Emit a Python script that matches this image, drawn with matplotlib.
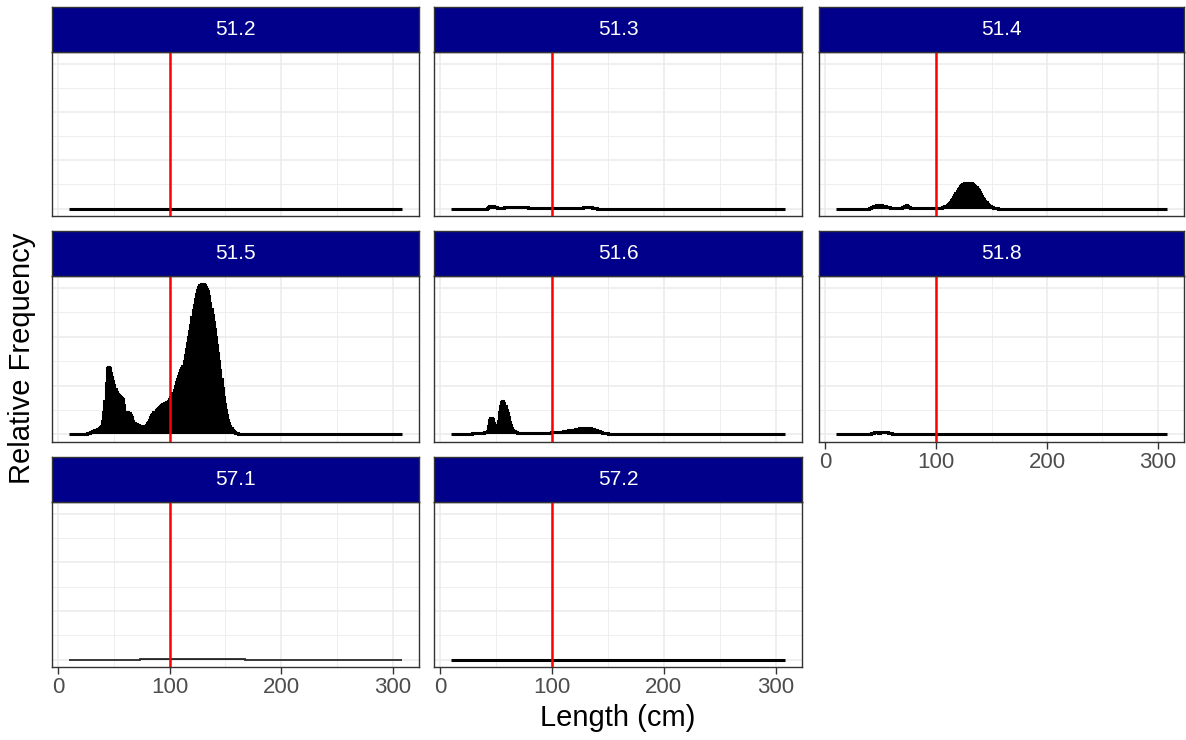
import numpy as np
import matplotlib
matplotlib.use('Agg')
from matplotlib import pyplot as plt

plt.rcParams['font.family'] = ['Liberation Sans', 'DejaVu Sans']

# length bins (cm) and relative frequency by statistical area, in units of 1e-4
lengths = np.arange(10, 309)
areas = ['51.2', '51.3', '51.4', '51.5', '51.6', '51.8', '57.1', '57.2']

freq_512_start = 10
freq_512 = []

freq_513_start = 42
freq_513 = [2, 4, 6, 6, 6, 6, 5, 4, 3, 2, 2, 2, 2, 2, 2, 2,
            3, 3, 3, 4, 4, 3, 3, 3, 3, 3, 3, 3, 4, 4, 3, 3, 3, 3, 3, 3, 3,
            1, 1, 1, 1, 1, 1, 1, 1, 1, 1, 1, 1, 1, 1, 1, 1, 1, 1, 1, 1,
            1, 1, 1, 1, 1, 1, 1, 1, 1, 1, 1, 1, 1, 1, 1, 1, 1, 1, 1, 1,
            1, 1, 1, 1, 1, 1, 1, 1, 1,
            3, 3, 4, 4, 4, 4, 3, 3, 1, 1, 1, 1, 1]

freq_514_start = 40
freq_514 = [1, 2, 3, 4, 5, 6, 7, 8, 8, 8, 8, 7, 6, 6, 5, 4, 4, 3, 3, 2,
            2, 2, 2, 2, 2, 2, 2, 2, 2, 2,
            3, 4, 6, 7, 6, 4, 3,
            2, 2, 2, 2, 2, 2, 2, 2, 2, 2, 2, 2, 2, 2, 2, 2, 2, 2, 2, 2, 2,
            2, 2, 2, 2, 2, 2, 2, 2,
            3, 4, 5, 6, 7, 9, 11, 14, 17, 20, 24, 28, 32, 37, 40, 43, 46, 48,
            50, 51, 52, 53, 53, 53, 53, 53, 52, 51, 49, 47, 44, 41, 38, 35,
            30, 26, 22, 19, 16, 13, 10, 8, 6, 5, 4, 3, 2, 1.5, 1, 0.5]

freq_515_start = 25
freq_515 = [1, 2, 3, 4, 5, 6, 7, 8, 9, 10, 11, 12, 14, 16, 18,
            28, 45, 69, 106, 136, 138, 136, 126, 118, 110, 102, 93, 87, 83,
            81, 79, 77, 75, 73, 61, 47, 45, 45, 43, 43, 39, 35, 28, 24, 22,
            21, 20, 19, 18, 18, 17, 17, 17, 17, 20, 23, 26, 30, 35, 39, 42,
            45, 47, 50, 53, 55, 57, 59, 61, 63, 64, 65, 66, 67, 68, 73, 77,
            81, 85, 91, 99, 108, 114, 120, 126, 132, 136, 140, 150, 162, 175,
            187, 199, 211, 225, 240, 254, 266, 278, 288, 296, 302, 305, 307,
            309, 309, 307, 302, 298, 294, 284, 270, 256, 244, 231, 215, 199,
            183, 166, 150, 132, 114, 95, 77, 63, 51, 39, 30, 24, 18, 14, 10,
            8, 6, 4, 3, 2, 1, 1]

freq_516_start = 25
freq_516 = [1, 1, 1.5, 1.5, 2, 2, 2, 2, 2.5, 2.5, 3, 3, 3.5, 3.5, 4, 5, 6, 8,
            18, 30, 34, 34, 32, 24, 20, 18, 20, 28, 45, 59, 67, 69, 65, 59,
            51, 43, 35, 26, 20, 14, 10, 8, 6, 5, 4,
            3, 3, 3, 3, 3, 3, 3, 3, 3, 3, 3, 3, 3, 3, 3, 3,
            4, 4, 4, 4, 4, 4, 4, 4, 4, 4, 4, 4, 4, 4,
            6, 6, 6, 6, 6, 6, 6, 6, 6, 6,
            7, 7, 8, 8, 8, 9, 9, 9, 9, 10, 10, 11, 11, 12, 12, 13, 13, 13,
            14, 14, 14, 14, 13, 13, 13, 12, 12, 11, 10, 10, 9, 8, 7, 6, 5,
            4, 4, 3, 3, 2, 2, 1.5, 1, 1, 0.5, 0.5]

freq_518_start = 42
freq_518 = [2, 3, 4, 5, 5, 5, 4, 4, 5, 5, 6, 6, 6, 5, 5, 4, 3, 3, 2, 1]

freq_571_start = 74
freq_571 = [2, 2, 2, 2, 2, 2, 2, 2, 2, 2, 2, 2, 2, 2, 2, 2, 2, 2, 2, 2,
            2, 2, 2, 2, 2, 2, 2, 2, 2, 2, 2, 2, 2, 2, 2, 2, 2, 2, 2, 2,
            2, 2, 2, 2, 2, 2, 2, 2, 2, 2, 2, 2, 2, 2, 2, 2, 2, 2, 2, 2,
            2, 2, 2, 2, 2, 2, 2, 2, 2, 2, 2, 2, 2, 2, 2, 2, 2, 2, 2, 2,
            2, 2, 2, 2, 2, 2, 2, 2, 2, 2, 2, 2, 2, 2]

freq_572_start = 10
freq_572 = []

starts = [freq_512_start, freq_513_start, freq_514_start, freq_515_start,
          freq_516_start, freq_518_start, freq_571_start, freq_572_start]
series = [freq_512, freq_513, freq_514, freq_515, freq_516, freq_518,
          freq_571, freq_572]

def full_series(start, vals):
    out = np.zeros(len(lengths))
    i = start - lengths[0]
    out[i:i + len(vals)] = vals
    return out * 1e-4

rel = [full_series(s, v) for s, v in zip(starts, series)]
edges = np.append(lengths - 0.5, lengths[-1] + 0.5)

# shared scales as in a fixed facet grid
xmin, xmax = edges[0], edges[-1]
xpad = 0.05 * (xmax - xmin)
ymax = max(r.max() for r in rel)
ypad = 0.05 * ymax

W, H = 1186, 740
fig = plt.figure(figsize=(W / 100, H / 100), dpi=100)

col_px = [(52, 419), (434, 802), (819, 1184)]
row_px = [(52, 216), (276, 442), (502, 667)]
strip_h = 45
border = '#333333'
grid_c = '#EBEBEB'

def px_axes(x0, y0, x1, y1):
    return fig.add_axes([x0 / W, 1 - y1 / H, (x1 - x0) / W, (y1 - y0) / H])

for k, area in enumerate(areas):
    r, c = divmod(k, 3)
    x0, x1 = col_px[c]
    y0, y1 = row_px[r]
    ax = px_axes(x0, y0, x1, y1)
    ax.set_facecolor('white')
    ax.set_axisbelow(True)
    ax.set_xticks([0, 100, 200, 300])
    ax.set_xticks([50, 150, 250], minor=True)
    ax.set_yticks([0, 0.01, 0.02, 0.03])
    ax.set_yticks([0.005, 0.015, 0.025], minor=True)
    ax.grid(which='major', color=grid_c, lw=1.1)
    ax.grid(which='minor', color=grid_c, lw=0.6)
    # filled bars plus their outline; empty bins leave the outline on zero
    ax.stairs(rel[k], edges, fill=True, color='black', zorder=2)
    if area == '57.1':
        ax.stairs(rel[k], edges, color='#2a2a2a', lw=1.3, zorder=2)
    else:
        ax.stairs(rel[k], edges, color='black', lw=2.2, zorder=2)
    ax.axvline(100, color='red', lw=1.8, zorder=3)
    ax.set_xlim(xmin - xpad, xmax + xpad)
    ax.set_ylim(-ypad, ymax + ypad)
    for sp in ax.spines.values():
        sp.set_color(border)
        sp.set_linewidth(1.0)
    ax.tick_params(axis='y', which='both', length=0, labelleft=False)
    ax.tick_params(axis='x', which='minor', length=0)
    bottom = (r == 2) or (c == 2 and r == 1)
    if bottom:
        ax.tick_params(axis='x', which='major', length=5, width=1.0,
                       color=border, labelcolor='#4D4D4D', labelsize=16, pad=2)
    else:
        ax.tick_params(axis='x', which='major', length=0, labelbottom=False)

    sax = px_axes(x0, y0 - strip_h, x1, y0)
    sax.set_facecolor('#00008B')
    sax.set_xticks([])
    sax.set_yticks([])
    for sp in sax.spines.values():
        sp.set_color(border)
        sp.set_linewidth(1.0)
    sax.text(0.5, 0.5, area, color='white', fontsize=15, ha='center',
             va='center', transform=sax.transAxes)

fig.text((52 + 1184) / 2 / W, 1 - 718 / H, 'Length (cm)', fontsize=21,
         ha='center', va='center')
fig.text(22 / W, 1 - 358 / H, 'Relative Frequency', fontsize=21,
         rotation=90, ha='center', va='center')

fig.savefig('out.png', dpi=100, facecolor='white')
